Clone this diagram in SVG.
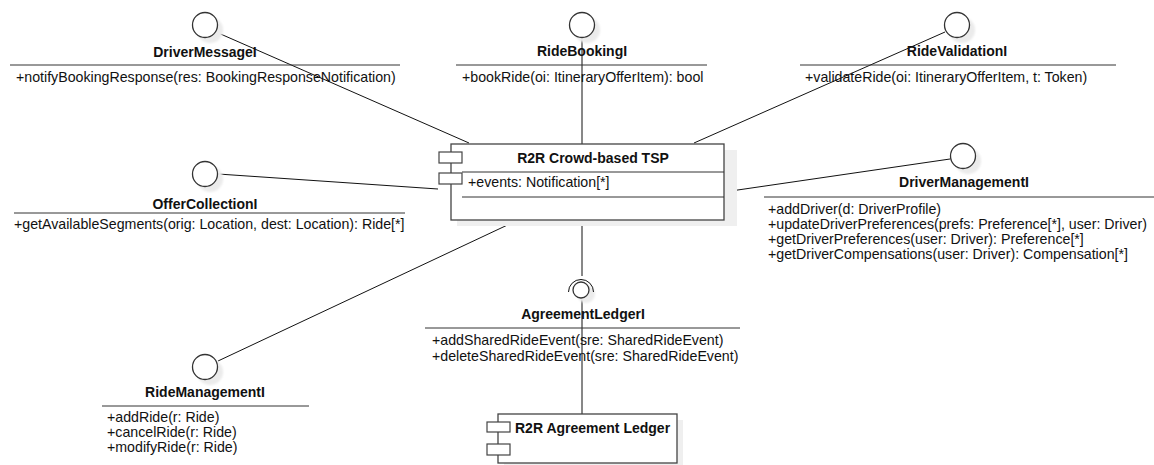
<svg xmlns="http://www.w3.org/2000/svg" width="1154" height="465" viewBox="0 0 1154 465">
<defs>
<style>
.bg{fill:#ffffff}
.ball{fill:#ffffff;stroke:#333333;stroke-width:1.3}
.shadowc{fill:#ebebeb}
.sep{stroke:#333333;stroke-width:1}
.lbl{font-family:"Liberation Sans",Arial,sans-serif;font-size:14px;font-weight:bold;fill:#111111;text-anchor:middle}
.op{font-family:"Liberation Sans",Arial,sans-serif;font-size:14.2px;fill:#111111}
.comp{fill:#ffffff;stroke:#444444;stroke-width:1.3}
.cshadow{fill:#efefef}
.port{fill:#ffffff;stroke:#444444;stroke-width:1.2}
.conn{stroke:#111111;stroke-width:1;fill:none}
</style>
<filter id="blur" x="-50%" y="-50%" width="200%" height="200%"><feGaussianBlur stdDeviation="1.2"/></filter>
</defs>
<rect class="bg" x="0" y="0" width="1154" height="465"/>

<g id="connectors">
<line class="conn" x1="216" y1="32" x2="469" y2="143"/>
<line class="conn" x1="582" y1="38" x2="582" y2="144"/>
<line class="conn" x1="945" y1="32" x2="694" y2="143"/>
<line class="conn" x1="218" y1="174" x2="438" y2="189"/>
<line class="conn" x1="950" y1="159" x2="724" y2="192"/>
<line class="conn" x1="218" y1="361" x2="516" y2="221"/>
<line class="conn" x1="582" y1="220" x2="582" y2="276"/>
<line class="conn" x1="582" y1="299" x2="582" y2="414"/>
</g>

<g id="DriverMessageI">
<circle class="shadowc" cx="210" cy="30" r="13" filter="url(#blur)"/>
<circle class="ball" cx="205" cy="25" r="12.5"/>
<text class="lbl" x="205" y="57">DriverMessageI</text>
<line class="sep" x1="10" y1="65" x2="400" y2="65"/>
<text class="op" x="16" y="82">+notifyBookingResponse(res: BookingResponseNotification)</text>
</g>

<g id="RideBookingI">
<circle class="shadowc" cx="587" cy="30" r="13" filter="url(#blur)"/>
<circle class="ball" cx="582" cy="25" r="12.5"/>
<text class="lbl" x="582" y="56">RideBookingI</text>
<line class="sep" x1="456" y1="65" x2="707" y2="65"/>
<text class="op" x="462" y="81.5">+bookRide(oi: ItineraryOfferItem): bool</text>
</g>

<g id="RideValidationI">
<circle class="shadowc" cx="962" cy="30" r="13" filter="url(#blur)"/>
<circle class="ball" cx="957" cy="25" r="12.5"/>
<text class="lbl" x="957" y="56">RideValidationI</text>
<line class="sep" x1="800" y1="65" x2="1116" y2="65"/>
<text class="op" x="805" y="82">+validateRide(oi: ItineraryOfferItem, t: Token)</text>
</g>

<g id="OfferCollectionI">
<circle class="shadowc" cx="210" cy="179" r="13" filter="url(#blur)"/>
<circle class="ball" cx="205" cy="174" r="12.5"/>
<text class="lbl" x="205" y="209">OfferCollectionI</text>
<line class="sep" x1="14" y1="213" x2="405" y2="213"/>
<text class="op" x="14" y="229">+getAvailableSegments(orig: Location, dest: Location): Ride[*]</text>
</g>

<g id="DriverManagementI">
<circle class="shadowc" cx="968" cy="161" r="13" filter="url(#blur)"/>
<circle class="ball" cx="963" cy="156" r="12.5"/>
<text class="lbl" x="964" y="187">DriverManagementI</text>
<line class="sep" x1="764" y1="197" x2="1154" y2="197"/>
<text class="op" x="768" y="214">+addDriver(d: DriverProfile)</text>
<text class="op" x="768" y="229">+updateDriverPreferences(prefs: Preference[*], user: Driver)</text>
<text class="op" x="768" y="244">+getDriverPreferences(user: Driver): Preference[*]</text>
<text class="op" x="768" y="259">+getDriverCompensations(user: Driver): Compensation[*]</text>
</g>

<g id="RideManagementI">
<circle class="shadowc" cx="210" cy="372" r="13" filter="url(#blur)"/>
<circle class="ball" cx="205" cy="367" r="12.5"/>
<text class="lbl" x="205" y="397">RideManagementI</text>
<line class="sep" x1="102" y1="406" x2="309" y2="406"/>
<text class="op" x="107" y="422">+addRide(r: Ride)</text>
<text class="op" x="107" y="437">+cancelRide(r: Ride)</text>
<text class="op" x="107" y="452">+modifyRide(r: Ride)</text>
</g>

<g id="AgreementLedgerI">
<circle class="shadowc" cx="586" cy="294" r="9" filter="url(#blur)"/>
<path class="conn" d="M568.5,292 A12.5,12.5 0 0 1 593.5,292" stroke="#333333" stroke-width="1.3"/>
<circle class="ball" cx="581" cy="290" r="8"/>
<text class="lbl" x="583" y="319">AgreementLedgerI</text>
<line class="sep" x1="425" y1="328" x2="740" y2="328"/>
<text class="op" x="432" y="345">+addSharedRideEvent(sre: SharedRideEvent)</text>
<text class="op" x="432" y="361">+deleteSharedRideEvent(sre: SharedRideEvent)</text>
</g>

<g id="R2RCrowdBasedTSP">
<rect class="cshadow" x="457" y="150" width="280" height="76"/>
<rect class="comp" x="451" y="144" width="273" height="76"/>
<line class="sep" x1="462" y1="172" x2="724" y2="172"/>
<line class="sep" x1="462" y1="197" x2="724" y2="197"/>
<rect class="port" x="439" y="152" width="23" height="11"/>
<rect class="port" x="439" y="173" width="23" height="11"/>
<text class="lbl" x="593" y="162.5">R2R Crowd-based TSP</text>
<text class="op" x="468" y="187">+events: Notification[*]</text>
</g>

<g id="R2RAgreementLedger">
<rect class="cshadow" x="504" y="420" width="179" height="49"/>
<rect class="comp" x="498" y="414" width="179" height="49"/>
<rect class="port" x="487" y="422" width="23" height="10"/>
<rect class="port" x="487" y="444" width="23" height="11"/>
<text class="lbl" x="515" y="433" style="text-anchor:start">R2R Agreement Ledger</text>
</g>
</svg>
